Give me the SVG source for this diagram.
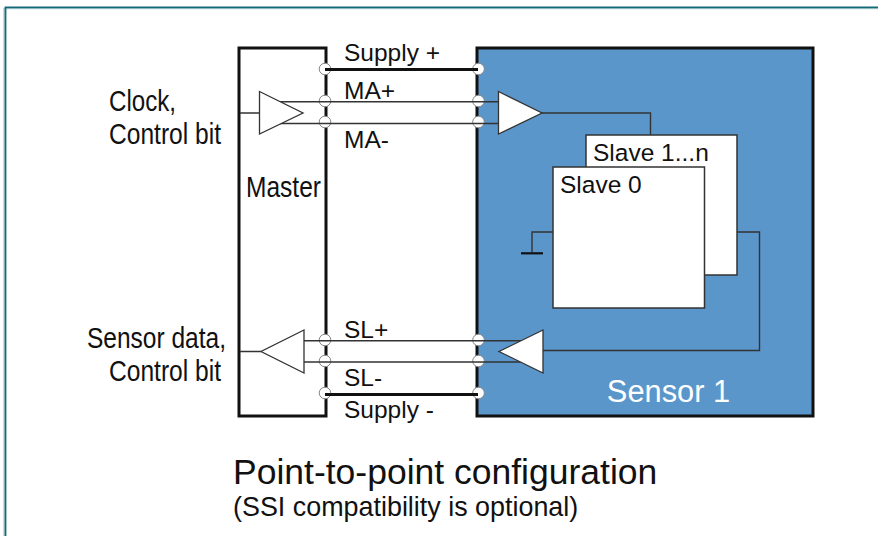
<svg xmlns="http://www.w3.org/2000/svg" width="878" height="536" viewBox="0 0 878 536">
<style>
text{font-family:"Liberation Sans",Arial,sans-serif;fill:#111}
.lab{font-size:24.500px}
.big{font-size:29px}
.w{stroke:#333;stroke-width:1.4;fill:none}
.thick{stroke:#111;stroke-width:2.800;fill:none}
.amp{fill:#fff;stroke:#333;stroke-width:1.3}
.pin{fill:#fff;stroke:#888;stroke-width:1}
.box{fill:#fff;stroke:#333;stroke-width:1.5}
</style>
<defs><circle id="p" r="5.800" class="pin"/></defs>
<path d="M4 536V8.500H878" fill="none" stroke="#b5d3d6" stroke-width="1.500"/>
<path d="M5.500 536V7.300H878" fill="none" stroke="#146a78" stroke-width="1.800"/>
<g id="sensor"><rect x="477" y="48" width="336" height="368" fill="#5b96cb" stroke="#111" stroke-width="3"/><text x="668.500" y="402" text-anchor="middle" font-size="30.800" style="fill:#fff">Sensor 1</text></g>
<g id="master"><rect x="239" y="48" width="87" height="368" fill="#fff" stroke="#111" stroke-width="3"/><text x="246" y="197" class="big" textLength="75" lengthAdjust="spacingAndGlyphs">Master</text></g>
<g id="pins"><use href="#p" x="325" y="69"/><use href="#p" x="325" y="101"/><use href="#p" x="325" y="122"/><use href="#p" x="325" y="340"/><use href="#p" x="325" y="361"/><use href="#p" x="325" y="393"/><use href="#p" x="478.500" y="69"/><use href="#p" x="478.500" y="101"/><use href="#p" x="478.500" y="122"/><use href="#p" x="478.500" y="340"/><use href="#p" x="478.500" y="361"/><use href="#p" x="478.500" y="393"/></g>
<g id="connectors">
<path class="thick" d="M325 69.500H478M325 394.500H478"/>
<path class="w" d="M325 101.700H498M325 123.500H498M240 113H260M280 101.700H325M280 123.500H325M542 113H650.500V135M553 232H532V252"/>
<path class="w" d="M325 340.700H521M325 362H521M240 351.500H261M304 340.700H325M304 362H325M543 350.500H759.500V232H737"/>
<path d="M521 253.300H543" stroke="#111" stroke-width="2.200"/>
</g>
<g id="amp-master-in"><path class="amp" d="M259.500 91.500L303 113L259.500 134Z"/></g>
<g id="amp-sensor-in"><path class="amp" d="M498.500 91.500L542 113L498.500 134Z"/></g>
<g id="amp-master-out"><path class="amp" d="M304 330L261 351.500L304 373Z"/></g>
<g id="amp-sensor-out"><path class="amp" d="M543 330L499 351.500L543 373Z"/></g>
<g id="slave-n"><rect class="box" x="586" y="135" width="151" height="140"/><text x="593" y="161" class="lab">Slave 1...n</text></g>
<g id="slave-0"><rect class="box" x="553" y="167" width="151.500" height="141"/><text x="560" y="193" class="lab">Slave 0</text></g>
<g id="labels">
<text x="344" y="61" class="lab">Supply +</text><text x="344" y="99" class="lab">MA+</text><text x="344" y="148" class="lab">MA-</text>
<text x="344" y="338" class="lab">SL+</text><text x="344" y="386" class="lab">SL-</text><text x="344" y="418" class="lab">Supply -</text>
<text x="109" y="111" class="big" textLength="67" lengthAdjust="spacingAndGlyphs">Clock,</text><text x="109" y="144" class="big" textLength="112" lengthAdjust="spacingAndGlyphs">Control bit</text>
<text x="87" y="348" class="big" textLength="139" lengthAdjust="spacingAndGlyphs">Sensor data,</text><text x="109" y="381" class="big" textLength="112" lengthAdjust="spacingAndGlyphs">Control bit</text>
<text x="233" y="484" font-size="35.500">Point-to-point configuration</text>
<text x="233" y="516" font-size="26.900">(SSI compatibility is optional)</text>
</g>
</svg>
